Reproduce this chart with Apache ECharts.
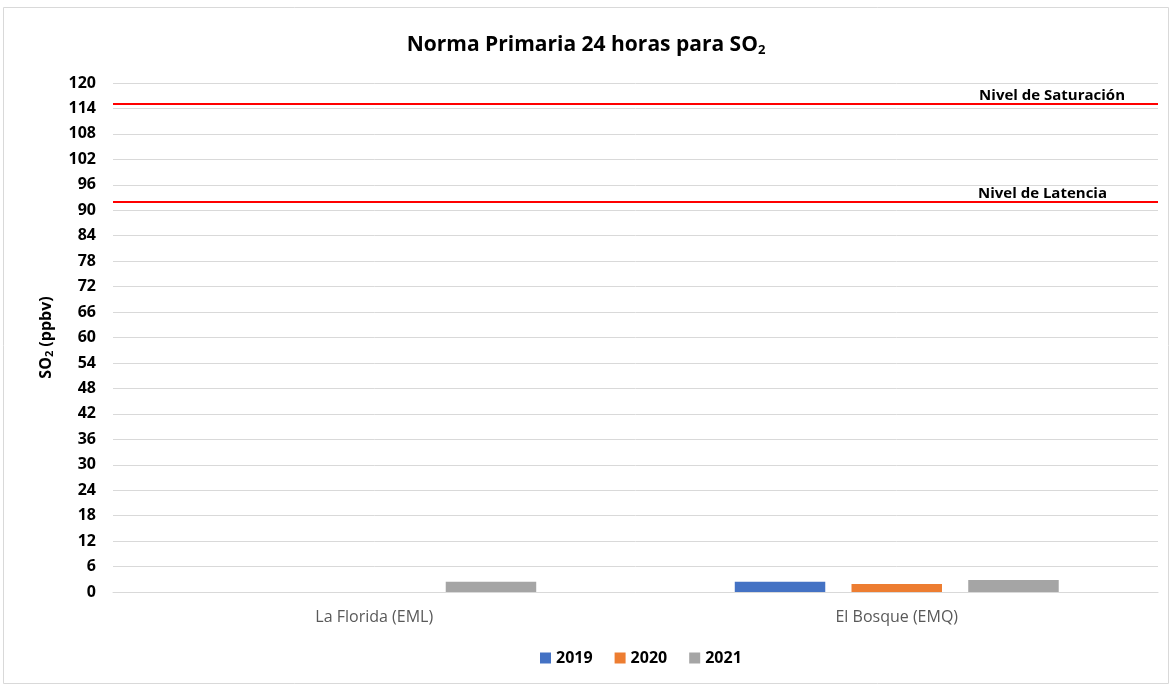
<!DOCTYPE html>
<html>
<head>
<meta charset="utf-8">
<script src="https://cdn.jsdelivr.net/npm/echarts@6/dist/echarts.min.js"></script>
<style>
  html, body { margin: 0; padding: 0; background: #fff; }
  #main { width: 1172px; height: 687px; }
</style>
</head>
<body>
<div id="main"></div>
<script>
// datos
var estaciones = ['La Florida (EML)', 'El Bosque (EMQ)'];
var anios = ['2019', '2020', '2021'];
var v2019 = ['-', 2.4];
var v2020 = ['-', 1.9];
var v2021 = [2.4, 2.8];
var nivelSaturacion = 115;
var nivelLatencia = 92;
var colores = ['#4472C4', '#ED7D31', '#A5A5A5'];

var fuente = 'Open Sans';

var myChart = echarts.init(document.getElementById('main'));

var valores = [v2019, v2020, v2021];
var series = anios.map(function (a, i) {
    var s = {
        name: a,
        type: 'bar',
        data: valores[i],
        barGap: '29%',
        barCategoryGap: '38%',
        itemStyle: { color: colores[i] }
    };
    if (i === 2) {
        s.markLine = {
            symbol: 'none',
            silent: true,
            animation: false,
            lineStyle: { color: '#FF0000', width: 2, type: 'solid' },
            label: {
                position: 'insideEndTop',
                color: '#000',
                fontFamily: fuente,
                fontWeight: 'bold',
                fontSize: 15,
                distance: 1
            },
            data: [
                { yAxis: nivelSaturacion, label: { formatter: 'Nivel de Saturación', padding: [0, 32, 0, 0] } },
                { yAxis: nivelLatencia, label: { formatter: 'Nivel de Latencia', padding: [0, 50, 0, 0] } }
            ]
        };
    }
    return s;
});

var option = {
    animation: false,
    textStyle: { fontFamily: fuente },
    title: {
        text: 'Norma Primaria 24 horas para SO{sub|2}',
        left: 'center',
        top: 29,
        textStyle: {
            fontFamily: fuente,
            fontSize: 21,
            fontWeight: 'bold',
            color: '#000',
            rich: {
                sub: { fontSize: 13, fontWeight: 'bold', verticalAlign: 'bottom', padding: [10, 0, 0, 0], color: '#000', fontFamily: fuente }
            }
        }
    },
    legend: {
        bottom: 16,
        left: 535,
        itemWidth: 11,
        itemHeight: 11,
        itemGap: 22,
        icon: 'rect',
        textStyle: { fontFamily: fuente, fontWeight: 'bold', fontSize: 16, color: '#000' }
    },
    grid: { left: 113, right: 14, top: 83, bottom: 95 },
    xAxis: {
        type: 'category',
        data: estaciones,
        axisTick: { show: false },
        axisLine: { lineStyle: { color: '#d9d9d9' } },
        axisLabel: { color: '#595959', fontSize: 16, margin: 17, fontFamily: fuente }
    },
    yAxis: {
        type: 'value',
        min: 0,
        max: 120,
        interval: 6,
        name: 'SO{sub|2} (ppbv)',
        nameLocation: 'middle',
        nameGap: 58,
        nameRotate: 90,
        nameTextStyle: {
            fontFamily: fuente,
            fontWeight: 'bold',
            fontSize: 16,
            color: '#000',
            rich: {
                sub: { fontSize: 11, fontWeight: 'bold', color: '#000', fontFamily: fuente, padding: [7, 0, 0, 0] }
            }
        },
        axisLine: { show: false },
        axisTick: { show: false },
        axisLabel: { color: '#000', fontWeight: 'bold', fontSize: 16, margin: 17, fontFamily: fuente },
        splitLine: { lineStyle: { color: '#d9d9d9', width: 1 } }
    },
    graphic: [{
        type: 'rect',
        shape: { x: 3.5, y: 7.5, width: 1165, height: 676 },
        style: { fill: 'none', stroke: '#d9d9d9', lineWidth: 1 },
        silent: true
    }],
    series: series
};

myChart.setOption(option);
</script>
</body>
</html>
